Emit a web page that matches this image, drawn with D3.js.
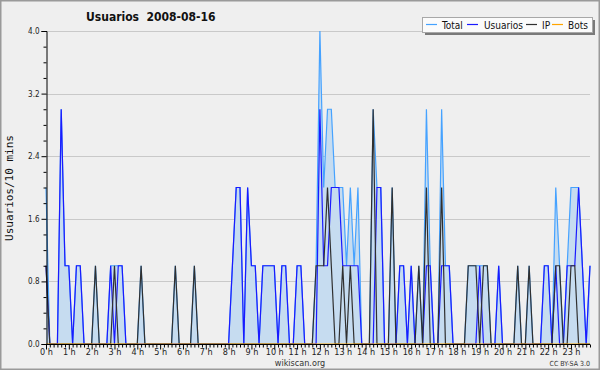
<!DOCTYPE html>
<html><head><meta charset="utf-8">
<script src="https://cdn.jsdelivr.net/npm/d3@7"></script>
<style>
html,body{margin:0;padding:0;background:#efefef;}
svg{display:block;}
</style></head>
<body>
<svg id="c" width="600" height="370"></svg>
<script>
// Data: one value per 10-minute slot (144 slots, 0 h .. 23 h 50)
const slots = d3.range(144);
const hourLabels = ["0 h","1 h","2 h","3 h","4 h","5 h","6 h","7 h","8 h","9 h","10 h","11 h","12 h","13 h","14 h","15 h","16 h","17 h","18 h","19 h","20 h","21 h","22 h","23 h"];
const yTicks = [0, 0.8, 1.6, 2.4, 3.2, 4.0];
const seriesNames = ["Total","Usuarios","IP","Bots"];
const total = [
 2,0,0,0,3,1,1,0,1,1,0,0, 0,1,0,0,0,1,1,1,1,0,0,0,
 0,1,0,0,0,0,0,0,0,0,1,0, 0,0,0,1,0,0,0,0,0,0,0,0,
 0,1,2,2,0,2,1,1,0,1,1,1, 1,0,1,1,0,0,1,1,0,0,0,1,
 4,2,3,3,2,2,2,1,2,1,2,0, 0,0,3,2,2,0,0,2,0,1,1,0,
 1,0,1,0,3,1,0,0,3,1,1,0, 0,0,0,1,1,1,1,1,1,0,0,1,
 0,0,0,0,1,0,0,1,0,0,0,1, 1,0,2,1,0,1,2,2,2,1,0,1
];
const usuarios = [
 1,0,0,0,3,1,1,0,1,1,0,0, 0,0,0,0,0,1,0,1,1,0,0,0,
 0,0,0,0,0,0,0,0,0,0,0,0, 0,0,0,0,0,0,0,0,0,0,0,0,
 0,1,2,2,0,2,1,1,0,1,1,1, 1,0,1,1,0,0,1,1,0,0,0,0,
 3,1,1,2,2,2,1,1,1,1,1,0, 0,0,0,2,2,0,0,0,0,1,1,0,
 1,0,0,0,1,1,0,0,1,1,1,0, 0,0,0,0,0,0,1,0,0,0,0,1,
 0,0,0,0,0,0,0,0,0,0,0,1, 1,0,1,0,0,1,1,1,2,1,0,1
];
const ip = [
 1,0,0,0,0,0,0,0,0,0,0,0, 0,1,0,0,0,0,1,0,0,0,0,0,
 0,1,0,0,0,0,0,0,0,0,1,0, 0,0,0,1,0,0,0,0,0,0,0,0,
 0,0,0,0,0,0,0,0,0,0,0,0, 0,0,0,0,0,0,0,0,0,0,0,1,
 1,1,2,1,0,0,1,0,1,0,0,0, 0,0,3,0,0,0,0,2,0,0,0,0,
 0,0,1,0,2,0,0,0,2,0,0,0, 0,0,0,1,1,1,0,1,1,0,0,0,
 0,0,0,0,1,0,0,1,0,0,0,0, 0,0,1,1,0,0,1,1,0,0,0,0
];
const bots = slots.map(() => 0);

const svg = d3.select("#c");
const W = 600, H = 370;
const x = d3.scaleLinear().domain([0, 143]).range([46, 590]);
const y = d3.scaleLinear().domain([0, 4]).range([344, 31]);
const FONT = "DejaVu Sans Condensed, DejaVu Sans";

// frame
svg.append("rect").attr("x",0.75).attr("y",0.75).attr("width",W-1.5).attr("height",H-1.5)
  .attr("fill","#efefef").attr("stroke","#9a9a9a").attr("stroke-width",1.5);

// grid
svg.append("g").selectAll("line").data(yTicks.filter(d=>d>0)).join("line")
  .attr("x1",46).attr("x2",590).attr("y1",d=>Math.round(y(d))+0.5).attr("y2",d=>Math.round(y(d))+0.5)
  .attr("stroke","#c9c9c9").attr("stroke-width",1);

// series
const line = v => d3.line().x((d,i)=>x(i)).y(d=>y(d))(v);
const area = d3.area().x((d,i)=>x(i)).y0(y(0)).y1(d=>y(d));
svg.append("path").attr("d", area(total)).attr("fill","#c6dcf0");
svg.append("path").attr("d", line(total)).attr("fill","none").attr("stroke","#45a2ff").attr("stroke-width",1.2);
svg.append("path").attr("d", line(usuarios)).attr("fill","none").attr("stroke","#1a1aff").attr("stroke-width",1.2);
svg.append("path").attr("d", line(ip)).attr("fill","none").attr("stroke","#303030").attr("stroke-width",1.2);
svg.append("path").attr("d", line(bots)).attr("fill","none").attr("stroke","#ffa500").attr("stroke-width",1.2);

// y axis
const yAxis = d3.axisLeft(y).tickValues(yTicks).tickFormat(d3.format(".1f")).tickSize(5).tickPadding(2);
const gy = svg.append("g").attr("transform","translate(46.5,0)").call(yAxis);
gy.select(".domain").attr("stroke","#000");
gy.selectAll("text").attr("font-family",FONT).attr("font-size",8).attr("fill","#222");
const yMinor = d3.range(0, 4.01, 0.2).filter(v => !yTicks.some(t=>Math.abs(t-v)<1e-6));
svg.append("g").attr("transform","translate(46.5,0)").call(d3.axisLeft(y).tickValues(yMinor).tickSize(3).tickFormat(""))
  .select(".domain").remove();

// x axis
const xAxis = d3.axisBottom(x).tickValues(d3.range(0,144,6)).tickSize(5).tickPadding(-1)
  .tickFormat((d)=>hourLabels[d/6]);
const gx = svg.append("g").attr("transform","translate(0,344.5)").call(xAxis);
gx.select(".domain").attr("stroke","#000").attr("d","M46,0H590");
gx.selectAll("text").attr("font-family",FONT).attr("font-size",9).attr("fill","#222");
svg.append("g").attr("transform","translate(0,344.5)")
  .call(d3.axisBottom(x).tickValues(slots.filter(i=>i%6!==0)).tickSize(3).tickFormat(""))
  .select(".domain").remove();
svg.selectAll(".tick line").attr("stroke","#000");

// title
svg.append("text").attr("x",86).attr("y",21).attr("font-family",FONT)
  .attr("font-weight","bold").attr("font-size",12).attr("fill","#111").attr("xml:space","preserve")
  .text("Usuarios  2008-08-16");

// y title
svg.append("text").attr("transform","translate(13,188) rotate(-90)").attr("text-anchor","middle")
  .attr("font-family","DejaVu Sans Mono").attr("font-size",11).attr("fill","#111").text("Usuarios/10 mins");

// footer
svg.append("text").attr("x",300).attr("y",366).attr("text-anchor","middle")
  .attr("font-family",FONT).attr("font-size",9).attr("fill","#333").text("wikiscan.org");
svg.append("text").attr("x",590).attr("y",366).attr("text-anchor","end")
  .attr("font-family",FONT).attr("font-size",7).attr("fill","#333").text("CC BY-SA 3.0");

// legend
const colors = ["#45a2ff","#1a1aff","#303030","#ffa500"];
const lg = svg.append("g");
lg.append("rect").attr("x",425).attr("y",20).attr("width",170).attr("height",15).attr("fill","#7a7a7a");
lg.append("rect").attr("x",422.5).attr("y",17.5).attr("width",170).attr("height",15).attr("fill","#fbfbfb").attr("stroke","#a8a8a8");
const lx = [426, 467, 526, 552];
const tx = [442, 484, 542, 568];
seriesNames.forEach((n,k)=>{
  lg.append("line").attr("x1",lx[k]).attr("x2",lx[k]+11).attr("y1",24.5).attr("y2",24.5).attr("stroke",colors[k]).attr("stroke-width",1.2);
  lg.append("text").attr("x",tx[k]).attr("y",28.5).attr("font-family",FONT)
    .attr("font-size",10).attr("fill","#111").text(n);
});
</script>
</body></html>
